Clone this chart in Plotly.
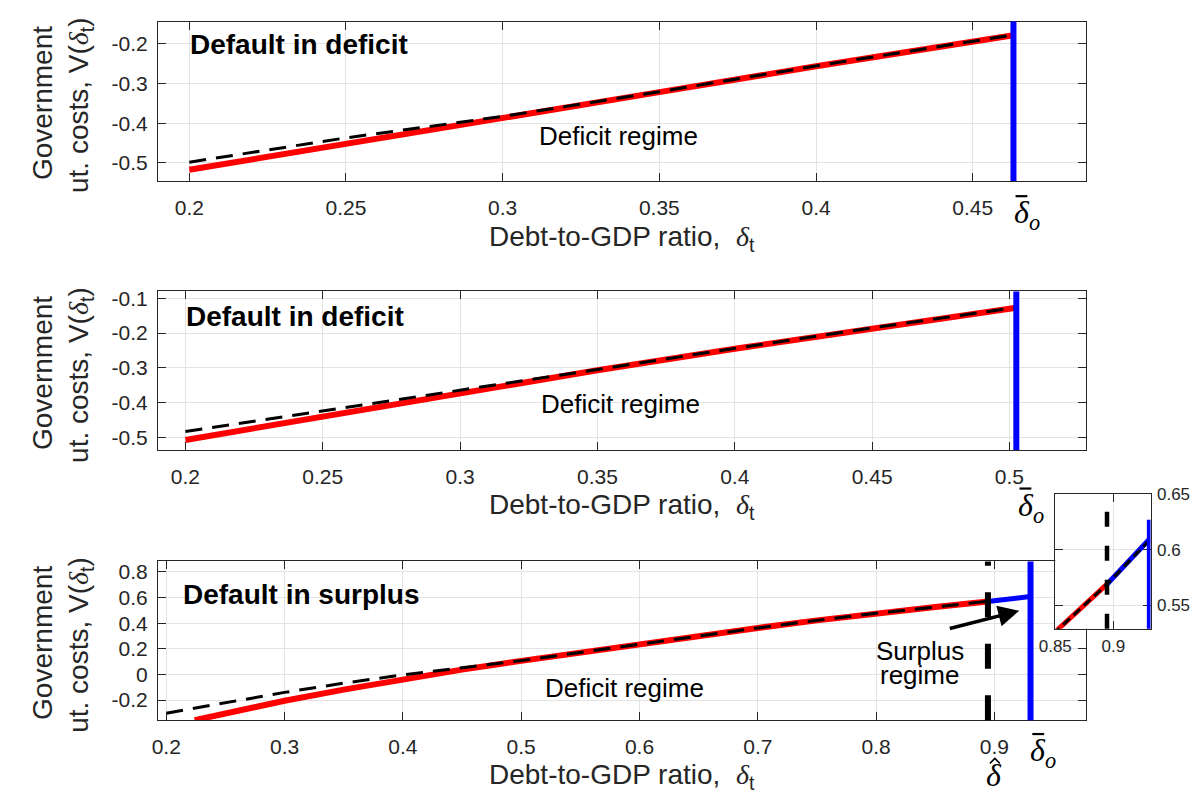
import plotly.graph_objects as go

# ---------------- data ----------------
# Panel 1: default in deficit
debt_p1 = [0.200, 0.250, 0.300, 0.350, 0.400, 0.450, 0.463]
cost_deficit_p1 = [-0.517, -0.451, -0.387, -0.322, -0.257, -0.195, -0.179]
cost_ref_p1 = [-0.498, -0.437, -0.383, -0.321, -0.256, -0.194, -0.178]
delta_bar_p1 = 0.463

# Panel 2: default in deficit
debt_p2 = [0.200, 0.250, 0.300, 0.350, 0.400, 0.450, 0.5025]
cost_deficit_p2 = [-0.508, -0.440, -0.372, -0.307, -0.245, -0.186, -0.127]
cost_ref_p2 = [-0.484, -0.425, -0.366, -0.305, -0.244, -0.185, -0.126]
delta_bar_p2 = 0.5025

# Panel 3: default in surplus
debt_deficit_p3 = [0.224, 0.250, 0.300, 0.350, 0.400, 0.450, 0.500, 0.550,
                   0.600, 0.650, 0.700, 0.750, 0.800, 0.850, 0.8945]
cost_deficit_p3 = [-0.357, -0.302, -0.205, -0.118, -0.035, 0.038, 0.106, 0.172,
                   0.236, 0.300, 0.363, 0.422, 0.478, 0.526, 0.569]
debt_surplus_p3 = [0.8945, 0.9305]
cost_surplus_p3 = [0.569, 0.609]
debt_ref_p3 = [0.200, 0.250, 0.300, 0.350, 0.400, 0.450, 0.500, 0.550,
               0.600, 0.650, 0.700, 0.750, 0.800, 0.850, 0.8945, 0.9305]
cost_ref_p3 = [-0.302, -0.218, -0.140, -0.068, -0.003, 0.052, 0.108, 0.172,
               0.236, 0.300, 0.363, 0.422, 0.478, 0.526, 0.569, 0.608]
delta_hat_p3 = 0.8945
delta_bar_p3 = 0.9305
inset_bar_top = 0.627

# ticks
x_ticks_p1 = [0.2, 0.25, 0.3, 0.35, 0.4, 0.45]
y_ticks_p1 = [-0.5, -0.4, -0.3, -0.2]
x_ticks_p2 = [0.2, 0.25, 0.3, 0.35, 0.4, 0.45, 0.5]
y_ticks_p2 = [-0.5, -0.4, -0.3, -0.2, -0.1]
x_ticks_p3 = [0.2, 0.3, 0.4, 0.5, 0.6, 0.7, 0.8, 0.9]
y_ticks_p3 = [-0.2, 0, 0.2, 0.4, 0.6, 0.8]
x_ticks_inset = [0.85, 0.9]
y_ticks_inset = [0.55, 0.6, 0.65]

# ---------------- styling helpers ----------------
W, H = 1192, 800
SANS = "Arial, 'Liberation Sans', Helvetica, sans-serif"
SERIF = "'Liberation Serif', 'Times New Roman', 'DejaVu Serif', serif"
INK = "#262626"
GRID = "#e3e3e3"
RED, BLUE, BLACK = "#ff0000", "#0000ff", "#000000"
REF_DASH = "17px,10px"


def fx(px):
    return px / W


def fy(py):
    return 1 - py / H


def lab(v):
    return f"{v:g}"


def make_axes(n, xpx, ypx, xrange, yrange, xt, yt, size, xstand, ystand, yside="left"):
    sx = "" if n == 1 else str(n)
    common = dict(ticks="inside", ticklen=8, tickwidth=1, tickcolor=INK,
                  showline=True, linecolor=INK, linewidth=1, mirror="ticks",
                  showgrid=True, gridcolor=GRID, gridwidth=1, zeroline=False,
                  tickfont=dict(family=SANS, size=size, color=INK), fixedrange=True)
    xa = dict(common, domain=[fx(xpx[0]), fx(xpx[1])], range=list(xrange),
              anchor="y" + sx, tickvals=xt, ticktext=[lab(v) for v in xt],
              ticklabelstandoff=xstand)
    ya = dict(common, domain=[fy(ypx[1]), fy(ypx[0])], range=list(yrange),
              anchor="x" + sx, tickvals=yt, ticktext=[lab(v) for v in yt],
              ticklabelstandoff=ystand, side=yside)
    return {"xaxis" + sx: xa, "yaxis" + sx: ya}


fig = go.Figure()


def line(x, y, n, color, width, dash="solid"):
    sx = "" if n == 1 else str(n)
    fig.add_trace(go.Scatter(x=x, y=y, mode="lines", xaxis="x" + sx, yaxis="y" + sx,
                             line=dict(color=color, width=width, dash=dash),
                             showlegend=False, hoverinfo="skip"))


# panel 1
line(debt_p1, cost_deficit_p1, 1, RED, 6)
line(debt_p1, cost_ref_p1, 1, BLACK, 3, REF_DASH)
# panel 2
line(debt_p2, cost_deficit_p2, 2, RED, 6)
line(debt_p2, cost_ref_p2, 2, BLACK, 3, REF_DASH)
# panel 3
line(debt_deficit_p3, cost_deficit_p3, 3, RED, 6)
line(debt_ref_p3, cost_ref_p3, 3, BLACK, 3, REF_DASH)
line(debt_surplus_p3, cost_surplus_p3, 3, BLUE, 5)
# inset: close-up of the regime switch
line(debt_deficit_p3, cost_deficit_p3, 4, RED, 5)
line(debt_surplus_p3, cost_surplus_p3, 4, BLUE, 5)
line(debt_ref_p3, cost_ref_p3, 4, BLACK, 3, "9px,5px")

layout_axes = {}
layout_axes.update(make_axes(1, (143, 1084), (12.7, 174), (0.19, 0.486), (-0.5455, -0.1445),
                             x_ticks_p1, y_ticks_p1, 21, 8, 5))
layout_axes.update(make_axes(2, (143, 1084), (285.7, 446), (0.19, 0.5277), (-0.537, -0.08),
                             x_ticks_p2, y_ticks_p2, 21, 8, 5))
layout_axes.update(make_axes(3, (143, 1084), (558.7, 719.3), (0.193, 0.977), (-0.357, 0.882),
                             x_ticks_p3, y_ticks_p3, 21, 8, 5))
layout_axes.update(make_axes(4, (1053.3, 1150), (490.7, 626.7), (0.85, 0.932), (0.529, 0.65),
                             x_ticks_inset, y_ticks_inset, 17, 2, 2, yside="right"))

shapes = [
    dict(type="line", xref="x", yref="y domain", x0=delta_bar_p1, x1=delta_bar_p1, y0=0, y1=1,
         line=dict(color=BLUE, width=6)),
    dict(type="line", xref="x2", yref="y2 domain", x0=delta_bar_p2, x1=delta_bar_p2, y0=0, y1=1,
         line=dict(color=BLUE, width=6)),
    dict(type="line", xref="x3", yref="y3 domain", x0=delta_hat_p3, x1=delta_hat_p3, y0=0, y1=1,
         line=dict(color=BLACK, width=6, dash="25px,26.5px")),
    dict(type="line", xref="x3", yref="y3 domain", x0=delta_bar_p3, x1=delta_bar_p3, y0=0, y1=1,
         line=dict(color=BLUE, width=6)),
    dict(type="line", xref="x4", yref="y4 domain", x0=delta_hat_p3, x1=delta_hat_p3, y0=0, y1=1,
         line=dict(color=BLACK, width=4.5, dash="15px,19px")),
    dict(type="line", xref="x4", yref="y4", x0=delta_bar_p3, x1=delta_bar_p3, y0=0.50, y1=inset_bar_top,
         line=dict(color=BLUE, width=4)),
]

ann = []


def text(px, py, s, size, xanchor="left", family=SANS, angle=0, color="black"):
    ann.append(dict(x=fx(px), y=fy(py), xref="paper", yref="paper", text=s, showarrow=False,
                    xanchor=xanchor, yanchor="middle", textangle=angle, borderpad=0,
                    font=dict(family=family, size=size, color=color)))


def paper_path(points, width=2):
    d = "M " + " L ".join(f"{fx(a):.5f},{fy(b):.5f}" for a, b in points)
    shapes.append(dict(type="path", xref="paper", yref="paper", path=d,
                       line=dict(color="black", width=width)))


delta_t = "<span style='font-family:Liberation Serif, serif'><i>δ</i></span><sub>t</sub>"
xtitle = "Debt-to-GDP ratio,  " + delta_t
delta_o = "<i>δ</i><sub><i>o</i></sub>"

for yc in [231.7, 502.7, 776.7]:
    text(478, yc, xtitle, 28, color=INK)

for cy in [95, 368, 641]:
    text(26.5, cy, "Government", 28, xanchor="center", angle=-90, color=INK)
    text(65, cy + 2, "ut. costs, V(" + delta_t + ")", 28, xanchor="center", angle=-90, color=INK)

text(174, 36, "<b>Default in deficit</b>", 28)
text(170, 311, "<b>Default in deficit</b>", 28)
text(167.5, 592, "<b>Default in surplus</b>", 28)

text(610, 128, "Deficit regime", 26, xanchor="center")
text(612.7, 399, "Deficit regime", 26, xanchor="center")
text(616.7, 686.7, "Deficit regime", 26, xanchor="center")

text(916, 649, "Surplus", 26, xanchor="center")
text(916, 674, "regime", 26, xanchor="center")

# delta-bar labels under the blue lines (glyph + overbar)
for left, bar_y in [(1010, 189.3), (1014, 485), (1027, 733.3)]:
    text(left, bar_y + 19, delta_o, 32, family=SERIF)
    paper_path([(left + 3, bar_y), (left + 15, bar_y)], width=2.2)

# delta-hat label under the dashed threshold
text(991.5, 775, "<i>δ</i>", 32, xanchor="center", family=SERIF)
paper_path([(987, 763), (992, 758), (997, 763)], width=1.6)

# arrow pointing at the surplus branch
arrow_tail = (0.861, 0.355)
arrow_head = (0.921, 0.497)
ann.append(dict(x=arrow_head[0], y=arrow_head[1], ax=arrow_tail[0], ay=arrow_tail[1],
                xref="x3", yref="y3", axref="x3", ayref="y3", text="", showarrow=True,
                arrowhead=2, arrowsize=1.2, arrowwidth=3.5, arrowcolor=BLACK))

fig.update_layout(
    width=W, height=H, autosize=False,
    margin=dict(l=0, r=0, t=0, b=0),
    paper_bgcolor="white", plot_bgcolor="#FFFFFF",
    shapes=shapes, annotations=ann,
    **layout_axes,
)

fig.write_html("out.html")
